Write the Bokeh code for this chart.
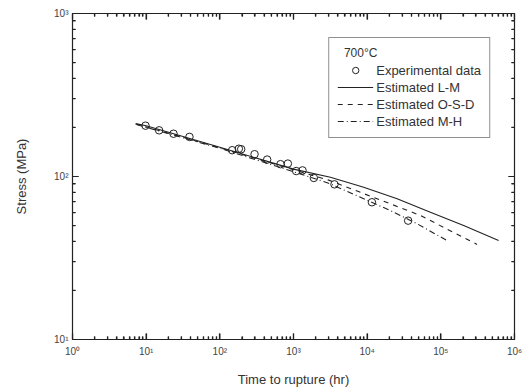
from bokeh.plotting import figure
from bokeh.models import LogAxis, FixedTicker, CustomJSTickFormatter, Legend, LegendItem, Range1d
from bokeh.embed import file_html
from bokeh.resources import INLINE

# ---- data ----
exp_time = [9.8, 15, 23.5, 38.7, 147, 181, 195, 296, 439, 666, 838, 1087, 1325, 1888, 3600, 11600, 36000]
exp_stress = [205, 192, 183, 175, 145, 148, 147, 137, 127, 119, 120, 108, 109, 98, 89.5, 69.5, 53.6]

lm_time = [7.2, 10, 100, 1000, 3170, 8970, 25500, 72100, 204000, 608000]
lm_stress = [211, 205, 151, 111, 99, 85.9, 73.0, 60.4, 50.0, 40.5]

osd_time = [7.2, 100, 1000, 3000, 20600, 52700, 310000]
osd_stress = [210, 150, 110, 95, 68, 57.7, 38.3]

mh_time = [7.5, 100, 1000, 3000, 20600, 47500, 121000]
mh_stress = [208, 149, 107, 91, 61.8, 51.3, 40.5]

x_range = (1, 1e6)
y_range = (10, 1000)
x_decades = [0, 1, 2, 3, 4, 5, 6]
y_decades = [1, 2, 3]
legend_title = "\u00a0\u00a0700°C"
labels = ["Experimental data", "Estimated L-M", "Estimated O-S-D", "Estimated M-H"]

FONT = "Liberation Sans"
INK = "#222222"

W, H = 526, 389
BL, BR, BT, BB = 72, 12, 13, 50

sup_code = """
const s = {'0':'\u2070','1':'\u00b9','2':'\u00b2','3':'\u00b3','4':'\u2074','5':'\u2075','6':'\u2076','7':'\u2077','8':'\u2078','9':'\u2079','-':'\u207b'};
const e = Math.round(Math.log10(tick));
return '10' + String(e).split('').map(c => s[c]).join('');
"""

def majors(decades):
    return [10.0 ** d for d in decades]

def minors(decades):
    return [m * 10.0 ** d for d in decades[:-1] for m in range(2, 10)]

def make_ticker(decades):
    return FixedTicker(ticks=majors(decades), minor_ticks=minors(decades))

p = figure(width=W, height=H, x_axis_type="log", y_axis_type="log",
           x_range=Range1d(*x_range), y_range=Range1d(*y_range),
           output_backend="svg", toolbar_location=None,
           min_border_left=BL, min_border_right=BR, min_border_top=BT, min_border_bottom=BB,
           background_fill_color="white", border_fill_color="white")
p.grid.visible = False
p.outline_line_color = INK
p.outline_line_width = 1.2

def style_axis(ax, show_labels=True):
    ax.major_tick_in = 6
    ax.major_tick_out = 0
    ax.minor_tick_in = 3
    ax.minor_tick_out = 0
    ax.major_tick_line_color = INK
    ax.minor_tick_line_color = INK
    ax.major_tick_line_width = 1.2
    ax.minor_tick_line_width = 1.2
    ax.axis_line_color = INK
    if show_labels:
        ax.formatter = CustomJSTickFormatter(code=sup_code)
        ax.major_label_text_font = FONT
        ax.major_label_text_font_size = "10px"
        ax.major_label_text_color = "#444444"
        ax.axis_label_text_font = FONT
        ax.axis_label_text_font_size = "13px"
        ax.axis_label_text_font_style = "normal"
        ax.axis_label_text_color = "#333333"
    else:
        ax.formatter = CustomJSTickFormatter(code="return '';")
        ax.major_label_text_font_size = "0px"
        ax.major_label_standoff = 0

p.xaxis.ticker = make_ticker(x_decades)
p.yaxis.ticker = make_ticker(y_decades)
style_axis(p.xaxis[0])
style_axis(p.yaxis[0])
p.xaxis.axis_label = "Time to rupture (hr)"
p.yaxis.axis_label = "Stress (MPa)"
p.xaxis.major_label_standoff = 6
p.xaxis.axis_label_standoff = 12
p.yaxis.major_label_standoff = 4
p.yaxis.axis_label_standoff = 22

top_ax = LogAxis(ticker=make_ticker(x_decades))
right_ax = LogAxis(ticker=make_ticker(y_decades))
style_axis(top_ax, False)
style_axis(right_ax, False)
p.add_layout(top_ax, "above")
p.add_layout(right_ax, "right")

# inward tick marks along the four frame edges (length in px converted to log factors)
px_per_dec_x = (W - BL - BR) / (x_decades[-1] - x_decades[0])
px_per_dec_y = (H - BT - BB) / (y_decades[-1] - y_decades[0])
def fx(px):
    return 10 ** (px / px_per_dec_x)
def fy(px):
    return 10 ** (px / px_per_dec_y)

for ticks, L in ((majors(x_decades), 6), (minors(x_decades), 3)):
    n = len(ticks)
    p.segment(ticks, [y_range[0]] * n, ticks, [y_range[0] * fy(L)] * n, line_color=INK, line_width=1.2)
    p.segment(ticks, [y_range[1]] * n, ticks, [y_range[1] / fy(L)] * n, line_color=INK, line_width=1.2)
for ticks, L in ((majors(y_decades), 6), (minors(y_decades), 3)):
    n = len(ticks)
    p.segment([x_range[0]] * n, ticks, [x_range[0] * fx(L)] * n, ticks, line_color=INK, line_width=1.2)
    p.segment([x_range[1]] * n, ticks, [x_range[1] / fx(L)] * n, ticks, line_color=INK, line_width=1.2)

r_exp = p.scatter(exp_time, exp_stress, marker="circle", size=7.5, fill_color=None,
                  line_color=INK, line_width=1)
r_lm = p.line(lm_time, lm_stress, line_color=INK, line_width=1.1)
r_osd = p.line(osd_time, osd_stress, line_color=INK, line_width=1.1, line_dash="5 5")
r_mh = p.line(mh_time, mh_stress, line_color=INK, line_width=1.1, line_dash="6 3 1 3")

legend = Legend(items=[LegendItem(label=labels[0], renderers=[r_exp]),
                       LegendItem(label=labels[1], renderers=[r_lm]),
                       LegendItem(label=labels[2], renderers=[r_osd]),
                       LegendItem(label=labels[3], renderers=[r_mh])],
                location="top_right", margin=24, padding=8, spacing=1,
                glyph_width=36, glyph_height=16, label_height=16, label_standoff=3,
                label_text_font=FONT, label_text_font_size="13px", label_text_color="#333333",
                title=legend_title, title_text_font=FONT, title_text_font_size="12px",
                title_text_font_style="normal", title_text_color="#333333", title_standoff=2,
                border_line_color=INK, border_line_width=1.5, background_fill_color="white")
p.add_layout(legend, "center")

open("out.html", "w").write(file_html(p, INLINE))
